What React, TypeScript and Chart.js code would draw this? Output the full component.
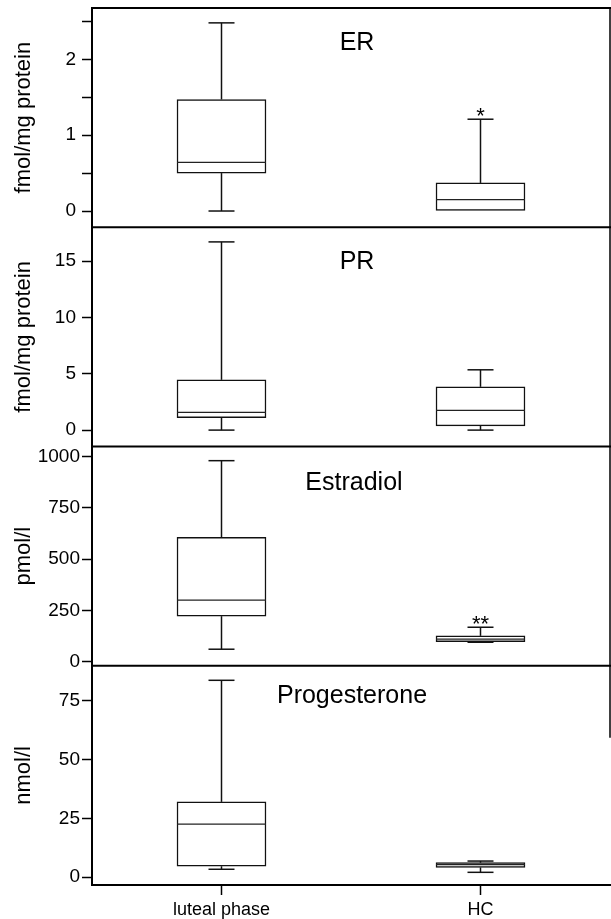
import React, { useEffect, useRef } from 'react';
import { Chart, registerables } from 'chart.js';

Chart.register(...registerables);

// ---- data ----
const categories = ['luteal phase', 'HC'];
const panelTitles = ['ER', 'PR', 'Estradiol', 'Progesterone'];
const axisTitles = ['fmol/mg protein', 'fmol/mg protein', 'pmol/l', 'nmol/l'];

// box statistics: [min, q1, median, q3, max]
const erLuteal = [0, 0.5, 0.64, 1.47, 2.48];
const erHC = [0, 0, 0.15, 0.37, 1.21];
const prLuteal = [0, 1.1, 1.57, 4.46, 16.7];
const prHC = [0, 0.38, 1.75, 3.84, 5.35];
const e2Luteal = [61, 222, 300, 606, 979];
const e2HC = [95, 98, 110, 126, 168];
const p4Luteal = [3.3, 4.6, 22.5, 32, 83.8];
const p4HC = [2.0, 4.1, 5.3, 6.1, 6.8];

// significance marks per panel, per category
const erStars = ['', '*'];
const prStars = ['', ''];
const e2Stars = ['', '**'];
const p4Stars = ['', ''];

// ticks
const erTicks = [0, 0.5, 1, 1.5, 2, 2.5];
const erTickLabels = [0, 1, 2];
const prTicks = [0, 5, 10, 15];
const prTickLabels = [0, 5, 10, 15];
const e2Ticks = [0, 250, 500, 750, 1000];
const e2TickLabels = [0, 250, 500, 750, 1000];
const p4Ticks = [0, 25, 50, 75];
const p4TickLabels = [0, 25, 50, 75];

// ---- layout (not data) ----
const FONT = '"Liberation Sans", Arial, Helvetica, sans-serif';
const AXIS_W = 92;

const panels = [
  { id: 'yER', title: panelTitles[0], axis: axisTitles[0], stats: [erLuteal, erHC], stars: erStars, ticks: erTicks, labels: erTickLabels, min: -0.214, max: 2.676, titleX: 357, titleDy: 35, weight: 4, pad: 6 },
  { id: 'yPR', title: panelTitles[1], axis: axisTitles[1], stats: [prLuteal, prHC], stars: prStars, ticks: prTicks, labels: prTickLabels, min: -1.455, max: 18.0, titleX: 357, titleDy: 35, weight: 3, pad: 6 },
  { id: 'yE2', title: panelTitles[2], axis: axisTitles[2], stats: [e2Luteal, e2HC], stars: e2Stars, ticks: e2Ticks, labels: e2TickLabels, min: -19.5, max: 1048, titleX: 354, titleDy: 37, weight: 2, pad: 2 },
  { id: 'yP4', title: panelTitles[3], axis: axisTitles[3], stats: [p4Luteal, p4HC], stars: p4Stars, ticks: p4Ticks, labels: p4TickLabels, min: -3.4, max: 90, titleX: 352, titleDy: 30, weight: 1, pad: 2 },
];

const boxPlugin = {
  id: 'boxWhiskers',
  afterDatasetsDraw(chart: any) {
    const ctx = chart.ctx as CanvasRenderingContext2D;
    const area = chart.chartArea;
    const line = (x1: number, y1: number, x2: number, y2: number) => {
      ctx.beginPath();
      ctx.moveTo(x1, y1);
      ctx.lineTo(x2, y2);
      ctx.stroke();
    };
    ctx.save();
    // panel separators
    ctx.strokeStyle = '#000';
    ctx.lineWidth = 2;
    panels.forEach((p) => {
      const s = chart.scales[p.id];
      line(area.left - 1, s.top, chart.width, s.top);
    });
    // right border
    ctx.lineWidth = 1.5;
    line(area.right, chart.scales[panels[0].id].top, area.right, chart.scales[panels[3].id].top + 72);

    panels.forEach((p, di) => {
      const ys = chart.scales[p.id];
      const meta = chart.getDatasetMeta(di);
      const Y = (v: number) => ys.getPixelForValue(v);
      p.stats.forEach((st, i) => {
        const bar = meta.data[i];
        if (!bar) return;
        const x = bar.x;
        const hw = bar.width / 2;
        const [mn, q1, md, q3, mx] = st;
        const cap = 13;
        ctx.strokeStyle = '#111';
        ctx.lineWidth = 1.5;
        if (mx > q3) {
          line(x, Y(q3), x, Y(mx));
          line(x - cap, Y(mx), x + cap, Y(mx));
        }
        if (mn < q1) {
          line(x, Y(q1), x, Y(mn));
          line(x - cap, Y(mn), x + cap, Y(mn));
        }
        ctx.lineWidth = 1.2;
        ctx.strokeStyle = '#222';
        line(x - hw, Y(md), x + hw, Y(md));
        const star = p.stars[i];
        if (star) {
          ctx.fillStyle = '#000';
          ctx.font = `22px ${FONT}`;
          ctx.textAlign = 'center';
          ctx.textBaseline = 'alphabetic';
          ctx.fillText(star, x, Y(mx) + 4);
        }
      });
      // panel title
      ctx.fillStyle = '#000';
      ctx.font = `25px ${FONT}`;
      ctx.textAlign = 'center';
      ctx.textBaseline = 'middle';
      ctx.fillText(p.title, p.titleX, ys.top + p.titleDy);
    });
    ctx.restore();
  },
};

export default function App() {
  const ref = useRef<HTMLCanvasElement | null>(null);

  useEffect(() => {
    if (!ref.current) return;
    Chart.defaults.font.family = FONT;
    const scales: any = {
      x: {
        type: 'category',
        labels: categories,
        offset: true,
        grid: { offset: false, drawOnChartArea: false, drawTicks: true, tickLength: 10, tickWidth: 1.5, tickColor: '#000' },
        border: { display: true, color: '#000', width: 2 },
        ticks: { font: { size: 18 }, color: '#000', padding: 4, maxRotation: 0 },
        afterFit: (s: any) => { s.height = 34; },
      },
    };
    panels.forEach((p) => {
      scales[p.id] = {
        type: 'linear',
        position: 'left',
        stack: 'panels',
        stackWeight: 1,
        weight: p.weight,
        min: p.min,
        max: p.max,
        grid: { drawOnChartArea: false, drawTicks: true, tickLength: 10, tickWidth: 1.5, tickColor: '#000' },
        border: { display: true, color: '#000', width: 2 },
        ticks: {
          font: { size: 19 },
          color: '#000',
          padding: p.pad,
          autoSkip: false,
          includeBounds: false,
          callback: (v: number) => (p.labels.includes(v) ? String(v) : ''),
        },
        afterBuildTicks: (s: any) => { s.ticks = p.ticks.map((v) => ({ value: v })); },
        afterFit: (s: any) => { s.width = AXIS_W; s.paddingTop = 0; s.paddingBottom = 0; },
        title: { display: true, text: p.axis, color: '#000', font: { size: 22 }, padding: { top: 11, bottom: 0 } },
      };
    });

    const chart = new Chart(ref.current, {
      type: 'bar',
      data: {
        labels: categories,
        datasets: panels.map((p) => ({
          label: p.title,
          yAxisID: p.id,
          xAxisID: 'x',
          data: p.stats.map((s) => [s[1], s[3]]),
          backgroundColor: '#fff',
          borderColor: '#111',
          borderWidth: 1.5,
          borderSkipped: false,
          barThickness: 89,
          grouped: false,
        })) as any,
      },
      options: {
        responsive: false,
        animation: false,
        devicePixelRatio: 1,
        layout: { padding: { top: 8, right: 1, left: 0, bottom: 0 } },
        plugins: { legend: { display: false }, tooltip: { enabled: false } },
        scales,
      } as any,
      plugins: [boxPlugin],
    });
    return () => chart.destroy();
  }, []);

  return (
    <div style={{ position: 'absolute', left: 0, top: 0, width: 611, height: 919, background: '#fff' }}>
      <canvas ref={ref} width={611} height={919} style={{ display: 'block' }} />
    </div>
  );
}
